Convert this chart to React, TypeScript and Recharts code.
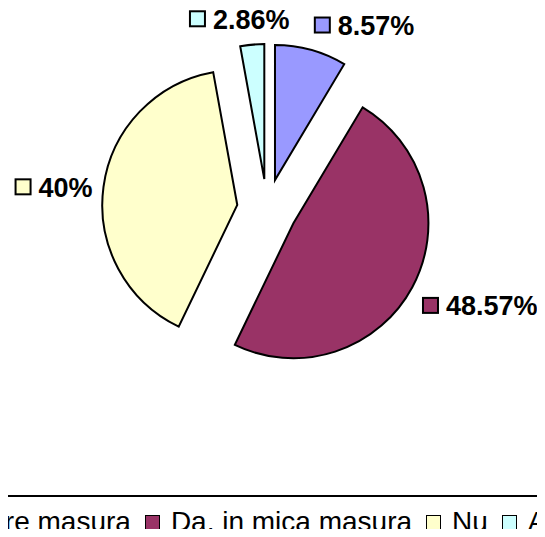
import React from "react";
import { PieChart, Pie, Cell, Sector, Legend } from "recharts";

const categories = ["Da, in mare masura", "Da, in mica masura", "Nu", "Alt raspuns"];
const responses = [3, 17, 14, 1];
const colors = ["#9999FF", "#993366", "#FFFFCC", "#CCFFFF"];

const data = categories.map((name, i) => ({ name, value: responses[i] }));

const RAD = Math.PI / 180;
const EXPLODE = 30;
const FONT = '"Liberation Sans", Arial, sans-serif';
const LABEL_SIZE = 27;

// every slice is pulled out along its own mid angle
const ExplodedSlice = (props: any) => {
  const { cx, cy, midAngle } = props;
  const dx = EXPLODE * Math.cos(midAngle * RAD);
  const dy = -EXPLODE * Math.sin(midAngle * RAD);
  return <Sector {...props} cx={cx + dx} cy={cy + dy} />;
};

// rough Arial bold width for digits, dot and percent
const widthOf = (s: string, size: number) =>
  s.split("").reduce((w, ch) => w + (ch === "%" ? 0.889 : ch === "." ? 0.278 : 0.556), 0) * size;

const renderLabel = (props: any) => {
  const { cx, cy, midAngle, percent, index } = props;
  const cosA = Math.cos(midAngle * RAD);
  const sinA = Math.sin(midAngle * RAD);
  const x = cx + 176 * cosA;
  const y = cy - 195 * sinA + 4;
  const text = `${parseFloat((percent * 100).toFixed(2))}%`;
  const tw = widthOf(text, LABEL_SIZE);
  let textX: number;
  if (Math.abs(cosA) < 0.15) textX = x - tw / 2;
  else if (cosA > 0) textX = x + 24;
  else textX = x - tw;
  const boxX = textX - 24;
  return (
    <g>
      <rect x={boxX + 1} y={y - 7.5} width={15} height={15} fill={colors[index]} stroke="#000" strokeWidth={2} />
      <text x={textX} y={y + 10} fontFamily={FONT} fontSize={LABEL_SIZE} fontWeight="bold" fill="#000">
        {text}
      </text>
    </g>
  );
};

// legend keeps the data order (recharts sorts by name otherwise)
const LegendRow = () => (
  <div style={{ position: "relative", height: 41 }}>
    <div
      style={{
        position: "absolute",
        left: -141,
        top: 11,
        display: "flex",
        whiteSpace: "nowrap",
        fontFamily: FONT,
        fontSize: 28,
        lineHeight: "32px",
        color: "#000",
      }}
    >
      {categories.map((name, i) => (
        <span key={name} style={{ display: "inline-flex", alignItems: "center", marginRight: 14 }}>
          <span
            style={{
              display: "inline-block",
              width: 13,
              height: 13,
              border: "1.5px solid #000",
              background: colors[i],
              marginRight: 11,
            }}
          />
          {name}
        </span>
      ))}
    </div>
  </div>
);

export default function App() {
  return (
    <div style={{ margin: -8, width: 545, height: 537, overflow: "hidden", position: "relative", background: "#fff" }}>
      <PieChart width={545} height={537} margin={{ top: 0, right: 0, bottom: 0, left: 0 }}>
        <line x1={0} x2={545} y1={496} y2={496} stroke="#000" strokeWidth={2} />
        <Pie
          data={data}
          dataKey="value"
          nameKey="name"
          cx={267}
          cy={209}
          outerRadius={135}
          startAngle={90}
          endAngle={-270}
          stroke="#000"
          strokeWidth={2}
          shape={ExplodedSlice}
          label={renderLabel}
          labelLine={false}
          isAnimationActive={false}
        >
          {data.map((d, i) => (
            <Cell key={d.name} fill={colors[i]} />
          ))}
        </Pie>
        <Legend content={<LegendRow />} wrapperStyle={{ left: 0, top: 495, bottom: "auto", width: 545 }} />
      </PieChart>
    </div>
  );
}
